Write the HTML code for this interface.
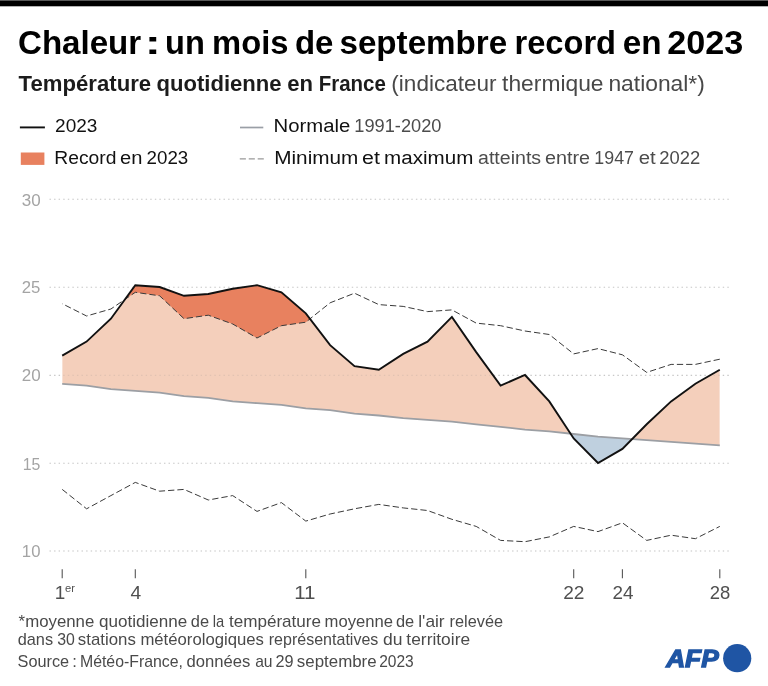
<!DOCTYPE html>
<html lang="fr"><head><meta charset="utf-8"><title>Chaleur : un mois de septembre record en 2023</title>
<style>
html,body{margin:0;padding:0;background:#fff}
body{width:768px;height:686px;overflow:hidden}
svg{display:block}

text{font-family:"Liberation Sans",sans-serif}
.t1{font-size:32.5px;font-weight:bold;fill:#000}
.t2{font-size:21.3px;font-weight:bold;fill:#1c1c1c}
.t2l{font-size:21.3px;fill:#484848}
.lg{font-size:17.6px;fill:#111}
.lgl{font-size:17.6px;fill:#4c4c4c}
.ft{font-size:16.6px;fill:#4a4a4a}
.yl{font-size:17px;fill:#a4a4a4}
.xl{font-size:18px;fill:#505050}
.xs{font-size:10.5px;fill:#505050}
.afp{font-size:23.6px;font-weight:bold;font-style:italic;fill:#1F55A4;stroke:#1F55A4;stroke-width:1.3;stroke-linejoin:miter}
</style></head><body>
<svg width="768" height="686" viewBox="0 0 768 686">
<rect x="0" y="0" width="768" height="686" fill="#fff"/>
<rect x="0" y="0.35" width="768" height="5.95" fill="#000"/>
<line x1="49.5" x2="731" y1="199.2" y2="199.2" stroke="#d6d6d6" stroke-width="1.1" stroke-dasharray="1.4 3.18"/>
<line x1="49.5" x2="731" y1="287.2" y2="287.2" stroke="#d6d6d6" stroke-width="1.1" stroke-dasharray="1.4 3.18"/>
<line x1="49.5" x2="731" y1="375.4" y2="375.4" stroke="#d6d6d6" stroke-width="1.1" stroke-dasharray="1.4 3.18"/>
<line x1="49.5" x2="731" y1="463.3" y2="463.3" stroke="#d6d6d6" stroke-width="1.1" stroke-dasharray="1.4 3.18"/>
<line x1="49.5" x2="731" y1="551" y2="551" stroke="#d6d6d6" stroke-width="1.1" stroke-dasharray="1.4 3.18"/>
<defs>
<clipPath id="cAboveNorm"><polygon points="62.2,383.8 86.6,385.6 110.9,389.1 135.3,390.8 159.6,392.6 184.0,396.1 208.3,397.9 232.7,401.4 257.0,403.2 281.4,404.9 305.8,408.4 330.1,410.2 354.5,413.7 378.8,415.5 403.2,418.1 427.5,419.9 451.9,421.6 476.2,424.3 500.6,426.9 525.0,429.6 549.3,431.3 573.7,434.0 598.0,436.6 622.4,438.4 646.7,440.1 671.1,441.9 695.4,443.6 719.8,445.4 719.8,0 62.2,0"/></clipPath>
<clipPath id="cBelowNorm"><polygon points="62.2,383.8 86.6,385.6 110.9,389.1 135.3,390.8 159.6,392.6 184.0,396.1 208.3,397.9 232.7,401.4 257.0,403.2 281.4,404.9 305.8,408.4 330.1,410.2 354.5,413.7 378.8,415.5 403.2,418.1 427.5,419.9 451.9,421.6 476.2,424.3 500.6,426.9 525.0,429.6 549.3,431.3 573.7,434.0 598.0,436.6 622.4,438.4 646.7,440.1 671.1,441.9 695.4,443.6 719.8,445.4 719.8,700 62.2,700"/></clipPath>
<clipPath id="cAboveMax"><polygon points="62.2,303.7 86.6,316.0 110.9,309.0 135.3,292.3 159.6,295.8 184.0,318.7 208.3,315.2 232.7,324.0 257.0,338.0 281.4,325.7 305.8,322.2 330.1,302.8 354.5,293.2 378.8,304.6 403.2,306.4 427.5,311.6 451.9,309.9 476.2,323.1 500.6,325.7 525.0,331.0 549.3,334.5 573.7,353.9 598.0,348.6 622.4,354.8 646.7,372.4 671.1,364.4 695.4,364.4 719.8,359.2 719.8,0 62.2,0"/></clipPath>
</defs>
<polygon fill="#F4CFBB" clip-path="url(#cAboveNorm)" points="62.2,355.6 86.6,341.6 110.9,318.7 135.3,285.2 159.6,287.0 184.0,295.8 208.3,294.0 232.7,288.8 257.0,285.2 281.4,292.3 305.8,313.4 330.1,345.1 354.5,366.2 378.8,369.7 403.2,353.9 427.5,341.6 451.9,316.9 476.2,352.1 500.6,385.6 525.0,375.0 549.3,401.4 573.7,438.4 598.0,463.0 622.4,448.9 646.7,424.3 671.1,401.4 695.4,383.8 719.8,369.7 719.8,700 62.2,700"/>
<polygon fill="#BFD0DF" clip-path="url(#cBelowNorm)" points="62.2,355.6 86.6,341.6 110.9,318.7 135.3,285.2 159.6,287.0 184.0,295.8 208.3,294.0 232.7,288.8 257.0,285.2 281.4,292.3 305.8,313.4 330.1,345.1 354.5,366.2 378.8,369.7 403.2,353.9 427.5,341.6 451.9,316.9 476.2,352.1 500.6,385.6 525.0,375.0 549.3,401.4 573.7,438.4 598.0,463.0 622.4,448.9 646.7,424.3 671.1,401.4 695.4,383.8 719.8,369.7 719.8,0 62.2,0"/>
<polygon fill="#E8815F" clip-path="url(#cAboveMax)" points="62.2,355.6 86.6,341.6 110.9,318.7 135.3,285.2 159.6,287.0 184.0,295.8 208.3,294.0 232.7,288.8 257.0,285.2 281.4,292.3 305.8,313.4 330.1,345.1 354.5,366.2 378.8,369.7 403.2,353.9 427.5,341.6 451.9,316.9 476.2,352.1 500.6,385.6 525.0,375.0 549.3,401.4 573.7,438.4 598.0,463.0 622.4,448.9 646.7,424.3 671.1,401.4 695.4,383.8 719.8,369.7 719.8,700 62.2,700"/>
<line x1="49.5" x2="731" y1="199.2" y2="199.2" stroke="#888" stroke-opacity="0.18" stroke-width="1.1" stroke-dasharray="1.4 3.18"/>
<line x1="49.5" x2="731" y1="287.2" y2="287.2" stroke="#888" stroke-opacity="0.18" stroke-width="1.1" stroke-dasharray="1.4 3.18"/>
<line x1="49.5" x2="731" y1="375.4" y2="375.4" stroke="#888" stroke-opacity="0.18" stroke-width="1.1" stroke-dasharray="1.4 3.18"/>
<line x1="49.5" x2="731" y1="463.3" y2="463.3" stroke="#888" stroke-opacity="0.18" stroke-width="1.1" stroke-dasharray="1.4 3.18"/>
<line x1="49.5" x2="731" y1="551" y2="551" stroke="#888" stroke-opacity="0.18" stroke-width="1.1" stroke-dasharray="1.4 3.18"/>
<path d="M62.2 383.8 L86.6 385.6 L110.9 389.1 L135.3 390.8 L159.6 392.6 L184.0 396.1 L208.3 397.9 L232.7 401.4 L257.0 403.2 L281.4 404.9 L305.8 408.4 L330.1 410.2 L354.5 413.7 L378.8 415.5 L403.2 418.1 L427.5 419.9 L451.9 421.6 L476.2 424.3 L500.6 426.9 L525.0 429.6 L549.3 431.3 L573.7 434.0 L598.0 436.6 L622.4 438.4 L646.7 440.1 L671.1 441.9 L695.4 443.6 L719.8 445.4" fill="none" stroke="#9c9fa4" stroke-width="1.8"/>
<path d="M719.8 359.2 L695.4 364.4 L671.1 364.4 L646.7 372.4 L622.4 354.8 L598.0 348.6 L573.7 353.9 L549.3 334.5 L525.0 331.0 L500.6 325.7 L476.2 323.1 L451.9 309.9 L427.5 311.6 L403.2 306.4 L378.8 304.6 L354.5 293.2 L330.1 302.8 L305.8 322.2 L281.4 325.7 L257.0 338.0 L232.7 324.0 L208.3 315.2 L184.0 318.7 L159.6 295.8 L135.3 292.3 L110.9 309.0 L86.6 316.0 L62.2 303.7" fill="none" stroke="#3a3a3a" stroke-width="1" stroke-dasharray="6.3 3"/>
<path d="M62.2 489.4 L86.6 508.8 L110.9 495.6 L135.3 482.4 L159.6 491.2 L184.0 489.4 L208.3 500.0 L232.7 495.6 L257.0 511.4 L281.4 502.6 L305.8 521.1 L330.1 514.0 L354.5 508.8 L378.8 504.4 L403.2 507.9 L427.5 510.5 L451.9 519.3 L476.2 526.4 L500.6 540.4 L525.0 541.7 L549.3 536.9 L573.7 526.4 L598.0 531.6 L622.4 522.8 L646.7 540.4 L671.1 535.2 L695.4 538.7 L719.8 526.4" fill="none" stroke="#3a3a3a" stroke-width="1" stroke-dasharray="6.3 3"/>
<path d="M62.2 355.6 L86.6 341.6 L110.9 318.7 L135.3 285.2 L159.6 287.0 L184.0 295.8 L208.3 294.0 L232.7 288.8 L257.0 285.2 L281.4 292.3 L305.8 313.4 L330.1 345.1 L354.5 366.2 L378.8 369.7 L403.2 353.9 L427.5 341.6 L451.9 316.9 L476.2 352.1 L500.6 385.6 L525.0 375.0 L549.3 401.4 L573.7 438.4 L598.0 463.0 L622.4 448.9 L646.7 424.3 L671.1 401.4 L695.4 383.8 L719.8 369.7" fill="none" stroke="#111" stroke-width="1.9" stroke-linejoin="miter"/>
<line x1="62.2" x2="62.2" y1="569.3" y2="578.3" stroke="#555" stroke-width="1.1"/>
<line x1="135.3" x2="135.3" y1="569.3" y2="578.3" stroke="#555" stroke-width="1.1"/>
<line x1="305.8" x2="305.8" y1="569.3" y2="578.3" stroke="#555" stroke-width="1.1"/>
<line x1="573.7" x2="573.7" y1="569.3" y2="578.3" stroke="#555" stroke-width="1.1"/>
<line x1="622.4" x2="622.4" y1="569.3" y2="578.3" stroke="#555" stroke-width="1.1"/>
<line x1="719.8" x2="719.8" y1="569.3" y2="578.3" stroke="#555" stroke-width="1.1"/>
<text><tspan x="18.01" y="54.30" class="t1" textLength="123.23" lengthAdjust="spacingAndGlyphs">Chaleur</tspan> <tspan x="144.80" y="54.30" class="t1" textLength="16.12" lengthAdjust="spacingAndGlyphs">:</tspan> <tspan x="165.10" y="54.30" class="t1" textLength="39.79" lengthAdjust="spacingAndGlyphs">un</tspan> <tspan x="212.05" y="54.30" class="t1" textLength="76.40" lengthAdjust="spacingAndGlyphs">mois</tspan> <tspan x="294.94" y="54.30" class="t1" textLength="38.49" lengthAdjust="spacingAndGlyphs">de</tspan> <tspan x="339.46" y="54.30" class="t1" textLength="167.72" lengthAdjust="spacingAndGlyphs">septembre</tspan> <tspan x="514.51" y="54.30" class="t1" textLength="101.53" lengthAdjust="spacingAndGlyphs">record</tspan> <tspan x="622.66" y="54.30" class="t1" textLength="38.84" lengthAdjust="spacingAndGlyphs">en</tspan> <tspan x="667.31" y="54.30" class="t1" textLength="76.01" lengthAdjust="spacingAndGlyphs">2023</tspan></text>
<text><tspan x="18.60" y="90.50" class="t2" textLength="132.53" lengthAdjust="spacingAndGlyphs">Température</tspan> <tspan x="156.44" y="90.50" class="t2" textLength="125.16" lengthAdjust="spacingAndGlyphs">quotidienne</tspan> <tspan x="287.16" y="90.50" class="t2" textLength="25.81" lengthAdjust="spacingAndGlyphs">en</tspan> <tspan x="318.69" y="90.50" class="t2" textLength="67.14" lengthAdjust="spacingAndGlyphs">France</tspan> <tspan x="391.37" y="90.50" class="t2l" textLength="105.15" lengthAdjust="spacingAndGlyphs">(indicateur</tspan> <tspan x="502.06" y="90.50" class="t2l" textLength="101.50" lengthAdjust="spacingAndGlyphs">thermique</tspan> <tspan x="608.43" y="90.50" class="t2l" textLength="96.40" lengthAdjust="spacingAndGlyphs">national*)</tspan></text>
<text><tspan x="55.07" y="132.30" class="lg" textLength="42.30" lengthAdjust="spacingAndGlyphs">2023</tspan></text>
<text><tspan x="273.50" y="132.30" class="lg" textLength="76.84" lengthAdjust="spacingAndGlyphs">Normale</tspan> <tspan x="354.32" y="132.30" class="lgl" textLength="87.12" lengthAdjust="spacingAndGlyphs">1991-2020</tspan></text>
<text><tspan x="54.33" y="163.60" class="lg" textLength="62.16" lengthAdjust="spacingAndGlyphs">Record</tspan> <tspan x="120.13" y="163.60" class="lg" textLength="22.39" lengthAdjust="spacingAndGlyphs">en</tspan> <tspan x="146.57" y="163.60" class="lg" textLength="41.65" lengthAdjust="spacingAndGlyphs">2023</tspan></text>
<text><tspan x="274.23" y="163.60" class="lg" textLength="84.13" lengthAdjust="spacingAndGlyphs">Minimum</tspan> <tspan x="362.01" y="163.60" class="lg" textLength="17.86" lengthAdjust="spacingAndGlyphs">et</tspan> <tspan x="384.13" y="163.60" class="lg" textLength="89.17" lengthAdjust="spacingAndGlyphs">maximum</tspan> <tspan x="478.05" y="163.60" class="lgl" textLength="63.05" lengthAdjust="spacingAndGlyphs">atteints</tspan> <tspan x="545.02" y="163.60" class="lgl" textLength="45.10" lengthAdjust="spacingAndGlyphs">entre</tspan> <tspan x="594.35" y="163.60" class="lgl" textLength="39.63" lengthAdjust="spacingAndGlyphs">1947</tspan> <tspan x="638.70" y="163.60" class="lgl" textLength="16.99" lengthAdjust="spacingAndGlyphs">et</tspan> <tspan x="659.32" y="163.60" class="lgl" textLength="40.94" lengthAdjust="spacingAndGlyphs">2022</tspan></text>
<text><tspan x="18.62" y="626.50" class="ft" textLength="75.67" lengthAdjust="spacingAndGlyphs">*moyenne</tspan> <tspan x="99.00" y="626.50" class="ft" textLength="88.18" lengthAdjust="spacingAndGlyphs">quotidienne</tspan> <tspan x="190.80" y="626.50" class="ft" textLength="18.28" lengthAdjust="spacingAndGlyphs">de</tspan> <tspan x="212.79" y="626.50" class="ft" textLength="11.48" lengthAdjust="spacingAndGlyphs">la</tspan> <tspan x="228.90" y="626.50" class="ft" textLength="92.15" lengthAdjust="spacingAndGlyphs">température</tspan> <tspan x="324.57" y="626.50" class="ft" textLength="68.39" lengthAdjust="spacingAndGlyphs">moyenne</tspan> <tspan x="395.96" y="626.50" class="ft" textLength="18.28" lengthAdjust="spacingAndGlyphs">de</tspan> <tspan x="418.26" y="626.50" class="ft" textLength="26.36" lengthAdjust="spacingAndGlyphs">l'air</tspan> <tspan x="449.60" y="626.50" class="ft" textLength="53.54" lengthAdjust="spacingAndGlyphs">relevée</tspan></text>
<text><tspan x="17.69" y="644.70" class="ft" textLength="35.35" lengthAdjust="spacingAndGlyphs">dans</tspan> <tspan x="57.15" y="644.70" class="ft" textLength="17.65" lengthAdjust="spacingAndGlyphs">30</tspan> <tspan x="77.86" y="644.70" class="ft" textLength="57.93" lengthAdjust="spacingAndGlyphs">stations</tspan> <tspan x="140.42" y="644.70" class="ft" textLength="123.56" lengthAdjust="spacingAndGlyphs">météorologiques</tspan> <tspan x="268.75" y="644.70" class="ft" textLength="109.59" lengthAdjust="spacingAndGlyphs">représentatives</tspan> <tspan x="382.91" y="644.70" class="ft" textLength="19.48" lengthAdjust="spacingAndGlyphs">du</tspan> <tspan x="406.39" y="644.70" class="ft" textLength="63.72" lengthAdjust="spacingAndGlyphs">territoire</tspan></text>
<text><tspan x="17.58" y="667.20" class="ft" textLength="51.59" lengthAdjust="spacingAndGlyphs">Source</tspan> <tspan x="72.18" y="667.20" class="ft" textLength="-108.90" lengthAdjust="spacingAndGlyphs">:</tspan> <tspan x="79.95" y="667.20" class="ft" textLength="103.05" lengthAdjust="spacingAndGlyphs">Météo-France,</tspan> <tspan x="186.64" y="667.20" class="ft" textLength="63.80" lengthAdjust="spacingAndGlyphs">données</tspan> <tspan x="255.15" y="667.20" class="ft" textLength="17.43" lengthAdjust="spacingAndGlyphs">au</tspan> <tspan x="275.53" y="667.20" class="ft" textLength="18.10" lengthAdjust="spacingAndGlyphs">29</tspan> <tspan x="296.84" y="667.20" class="ft" textLength="79.82" lengthAdjust="spacingAndGlyphs">septembre</tspan> <tspan x="379.15" y="667.20" class="ft" textLength="34.58" lengthAdjust="spacingAndGlyphs">2023</tspan></text>
<text><tspan x="21.74" y="205.60" class="yl" textLength="18.93" lengthAdjust="spacingAndGlyphs">30</tspan></text>
<text><tspan x="21.74" y="293.30" class="yl" textLength="18.63" lengthAdjust="spacingAndGlyphs">25</tspan></text>
<text><tspan x="21.73" y="381.40" class="yl" textLength="18.94" lengthAdjust="spacingAndGlyphs">20</tspan></text>
<text><tspan x="22.67" y="469.60" class="yl" textLength="17.65" lengthAdjust="spacingAndGlyphs">15</tspan></text>
<text><tspan x="21.85" y="557.20" class="yl" textLength="18.58" lengthAdjust="spacingAndGlyphs">10</tspan></text>
<text><tspan x="54.82" y="598.70" class="xl" textLength="10.51" lengthAdjust="spacingAndGlyphs">1</tspan><tspan x="65.07" y="591.70" class="xs" textLength="9.95" lengthAdjust="spacingAndGlyphs">er</tspan></text>
<text><tspan x="130.62" y="598.70" class="xl" textLength="10.72" lengthAdjust="spacingAndGlyphs">4</tspan></text>
<text><tspan x="294.19" y="598.70" class="xl" textLength="21.33" lengthAdjust="spacingAndGlyphs">11</tspan></text>
<text><tspan x="563.18" y="598.70" class="xl" textLength="21.26" lengthAdjust="spacingAndGlyphs">22</tspan></text>
<text><tspan x="612.61" y="598.70" class="xl" textLength="21.01" lengthAdjust="spacingAndGlyphs">24</tspan></text>
<text><tspan x="709.67" y="598.70" class="xl" textLength="20.52" lengthAdjust="spacingAndGlyphs">28</tspan></text>
<text><tspan x="666.16" y="666.70" class="afp" textLength="52.51" lengthAdjust="spacingAndGlyphs">AFP</tspan></text>
<line x1="19.9" x2="44.9" y1="127.4" y2="127.4" stroke="#111" stroke-width="1.9"/>
<rect x="20.8" y="152.5" width="23.6" height="12.4" fill="#E8815F"/>
<line x1="240" x2="263.3" y1="127.5" y2="127.5" stroke="#9a9fa6" stroke-width="1.7"/>
<line x1="239.8" x2="263.8" y1="158.8" y2="158.8" stroke="#999" stroke-width="1.2" stroke-dasharray="6.1 2.85"/>
<circle cx="737.2" cy="658.2" r="14.1" fill="#1F55A4"/>
</svg>
</body></html>
